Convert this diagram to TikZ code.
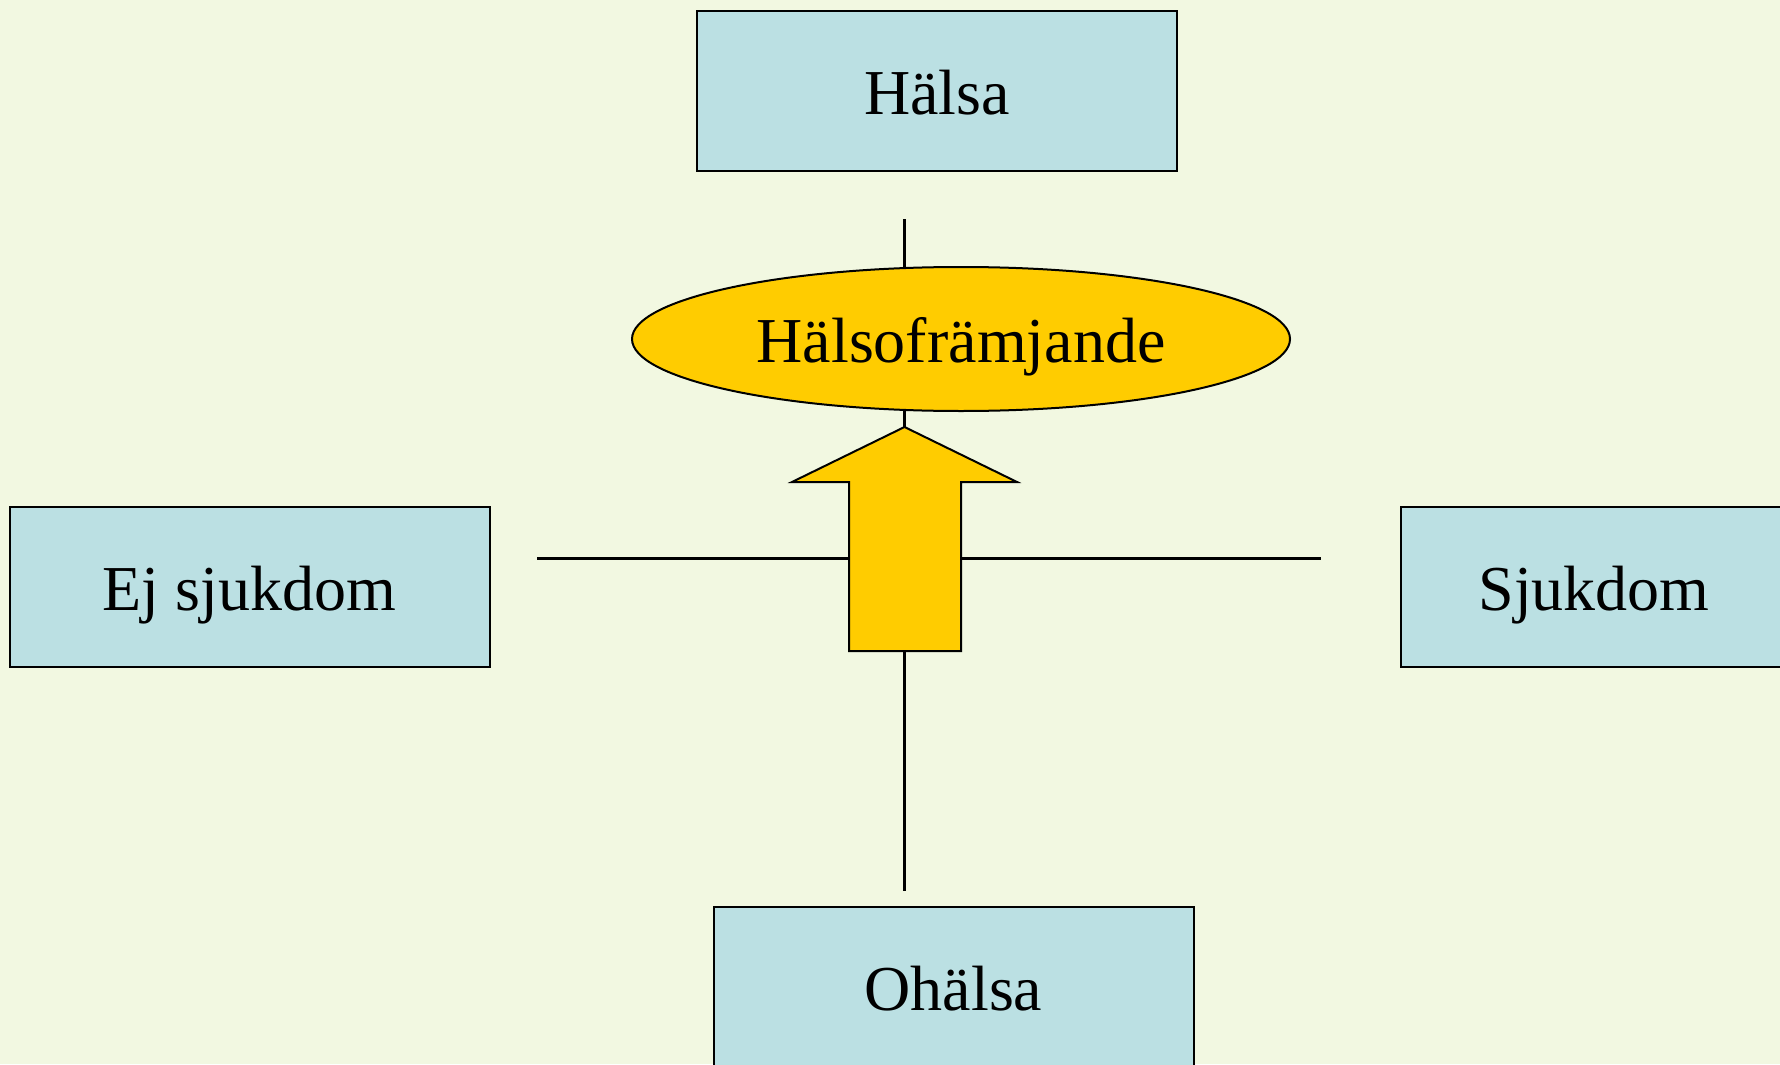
\documentclass[tikz,border=0pt]{standalone}
\usepackage{fontspec}
\setmainfont{Liberation Serif}
\usetikzlibrary{shapes.geometric}
\definecolor{bg}{RGB}{242,248,225}
\definecolor{boxfill}{RGB}{187,224,227}
\definecolor{gold}{RGB}{255,204,0}
\begin{document}
\begin{tikzpicture}[x=0.5pt,y=-0.5pt,
  lbl/.style={font=\fontsize{32}{38}\selectfont, text height=28.8pt, text depth=5.1pt, inner sep=0pt},
  box/.style={lbl, draw, line width=1pt, fill=boxfill, minimum width=240pt, minimum height=80pt},
  oval/.style={lbl, ellipse, draw, line width=1pt, fill=gold, minimum width=329pt, minimum height=72pt},
  axis/.style={draw, line width=1.2pt},
  bigarrow/.style={draw, line width=1pt, fill=gold, line join=miter}]
\path[use as bounding box, fill=bg] (0,0) rectangle (1780,1064);
% axes
\coordinate (vtop) at (904.5,219);
\coordinate (vbot) at (904.5,891);
\coordinate (hl) at (537,558.5);
\coordinate (hr) at (1321,558.5);
\draw[axis] (vtop) -- (vbot);
\draw[axis] (hl) -- (hr);
% boxes
\node[box] (halsa) at (937,91) {Hälsa};
\node[box] (ejsjuk) at (249.5,587) {Ej sjukdom};
\node[box, minimum width=193pt] (sjuk) at (1594,587) {Sjukdom};
\node[box] (ohalsa) at (953.5,987) {Ohälsa};
% ellipse
\node[oval] (framj) at (961,339) {Hälsofrämjande};
% arrow
\draw[bigarrow] (904.5,427) -- (1017,482) -- (961,482) -- (961,651) -- (849,651) -- (849,482) -- (792,482) -- cycle;
\end{tikzpicture}
\end{document}
